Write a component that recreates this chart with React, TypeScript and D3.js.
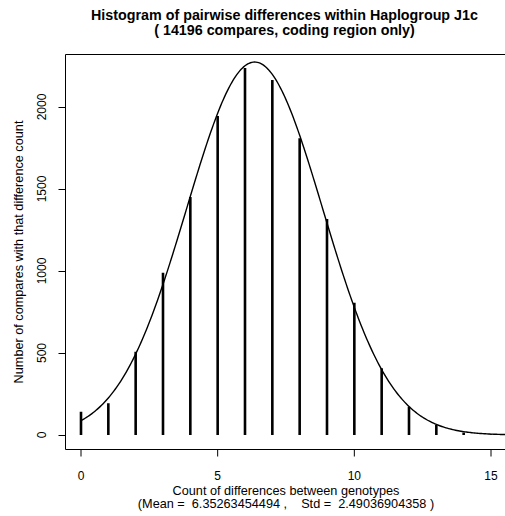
import React from "react";
import * as d3 from "d3";

const differences = [0, 1, 2, 3, 4, 5, 6, 7, 8, 9, 10, 11, 12, 13, 14, 15];
const counts = [142, 193, 508, 990, 1451, 1945, 2238, 2165, 1809, 1317, 807, 407, 173, 61, 16, 4];
const xTicks = [0, 5, 10, 15];
const yTicks = [0, 500, 1000, 1500, 2000];
const totalCompares = 14196;
const meanDiff = 6.35263454494;
const stdDiff = 2.49036904358;
const curveSamples = d3.range(0, 16.2, 0.05);

const titleLines = [
  "Histogram of pairwise differences within Haplogroup J1c",
  "( 14196 compares, coding region only)",
];
const xLabelLines = [
  "Count of differences between genotypes",
  "(Mean =  6.35263454494 ,    Std =  2.49036904358 )",
];
const yLabel = "Number of compares with that difference count";

export default function App() {
  const W = 505;
  const H = 516;
  const left = 65.5;
  const top = 54.5;
  const bottom = 449.5;
  const right = 506;
  const x = d3.scaleLinear().domain([0, 15]).range([81, 491]);
  const y = d3.scaleLinear().domain([0, 2000]).range([435, 107]);
  const font = "'Liberation Sans', Arial, Helvetica, sans-serif";

  const density = (v: number) =>
    (totalCompares / (stdDiff * Math.sqrt(2 * Math.PI))) *
    Math.exp(-0.5 * ((v - meanDiff) / stdDiff) ** 2);
  const line = d3
    .line<number>()
    .x((d) => x(d))
    .y((d) => y(density(d)))
    .curve(d3.curveLinear);

  const titleBase = [19.5, 35];
  const xlabBase = [495, 507.5];

  return (
    <svg
      width={W}
      height={H}
      style={{ position: "absolute", left: 0, top: 0, background: "#fff" }}
      fontFamily={font}
    >
      <rect x={0} y={0} width={W} height={H} fill="#fff" />
      {titleLines.map((t, i) => (
        <text
          key={i}
          x={284.5}
          y={titleBase[i]}
          textAnchor="middle"
          fontWeight="bold"
          fontSize={14.3}
          style={{ whiteSpace: "pre" }}
        >
          {t}
        </text>
      ))}
      <clipPath id="plotclip">
        <rect x={left} y={top} width={right - left} height={bottom - top} />
      </clipPath>
      <g clipPath="url(#plotclip)">
        {differences.map((d, i) => (
          <line
            key={d}
            x1={x(d)}
            x2={x(d)}
            y1={y(0)}
            y2={y(counts[i])}
            stroke="#000"
            strokeWidth={2.6}
          />
        ))}
        <path d={line(curveSamples) || ""} fill="none" stroke="#000" strokeWidth={1.4} />
      </g>
      <path
        d={`M${right},${top}H${left}V${bottom}H${right}`}
        fill="none"
        stroke="#000"
        strokeWidth={1}
      />
      {xTicks.map((t) => (
        <g key={t}>
          <line x1={x(t)} x2={x(t)} y1={bottom} y2={bottom + 7} stroke="#000" />
          <text x={x(t)} y={480} textAnchor="middle" fontSize={12}>
            {t}
          </text>
        </g>
      ))}
      {yTicks.map((t) => (
        <g key={t}>
          <line x1={left - 7} x2={left} y1={Math.round(y(t)) + 0.5} y2={Math.round(y(t)) + 0.5} stroke="#000" />
          <text
            transform={`translate(46,${y(t)}) rotate(-90)`}
            textAnchor="middle"
            fontSize={12}
          >
            {t}
          </text>
        </g>
      ))}
      {xLabelLines.map((t, i) => (
        <text
          key={i}
          x={286}
          y={xlabBase[i]}
          textAnchor="middle"
          fontSize={12.7}
          style={{ whiteSpace: "pre" }}
        >
          {t}
        </text>
      ))}
      <text
        transform={`translate(23,252) rotate(-90)`}
        textAnchor="middle"
        fontSize={12.7}
      >
        {yLabel}
      </text>
    </svg>
  );
}
